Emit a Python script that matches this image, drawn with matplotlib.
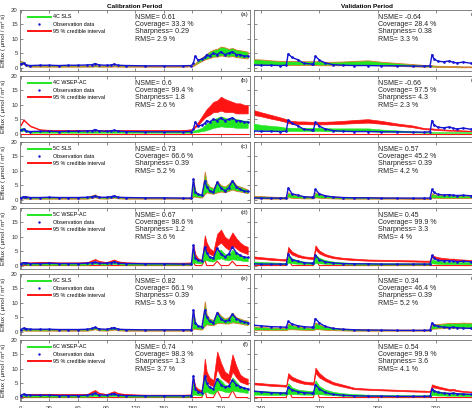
import matplotlib
matplotlib.use('Agg')
import matplotlib.pyplot as plt
from matplotlib.lines import Line2D

plt.rcParams['font.family'] = ['Liberation Sans', 'DejaVu Sans']

# ---------------- data ----------------
cal_t = [0, 3, 6, 10, 20, 30, 40, 50, 60, 70,
         75, 78, 82, 90, 95, 98, 102, 110, 130, 150,
         170, 179, 181, 183, 186, 190, 193, 195, 198, 202,
         206, 210, 214, 218, 222, 226, 230, 234, 238]
val_t = [236, 240, 245, 250, 253, 254, 256, 259, 262, 266,
         267, 268, 270, 273, 277, 282, 288, 295, 302, 310,
         318, 324, 327, 328, 329, 331, 334, 337, 339, 341,
         344, 348, 352]

cal_ticks = [0, 30, 60, 90, 120, 150, 180, 210]
val_ticks = [240, 270, 300, 330]
y_ticks = [0, 5, 10, 15, 20]

model_names = ['4C SLS', '4C WSEP-AC', '5C SLS', '5C WSEP-AC', '6C SLS', '6C WSEP-AC']
cal_tags = ['(a)', '(b)', '(c)', '(d)', '(e)', '(f)']
val_tags = ['(g)', '(h)', '(i)', '(j)', '(k)', '(l)']
cal_nsme = ['0.61', '0.6', '0.73', '0.67', '0.82', '0.74']
cal_cov = ['33.3', '99.4', '66.6', '98.6', '66.1', '98.3']
cal_sharp = ['0.29', '1.8', '0.39', '1.2', '0.39', '1.3']
cal_rms = ['2.9', '2.6', '5.2', '3.6', '5.3', '3.7']
val_nsme = ['-0.64', '-0.66', '0.57', '0.45', '0.34', '0.54']
val_cov = ['28.4', '97.5', '45.2', '99.9', '46.4', '99.9']
val_sharp = ['0.38', '4.3', '0.39', '3.3', '0.39', '3.6']
val_rms = ['3.3', '2.3', '4.2', '4', '5.2', '4.1']

# observations
obs_4c_cal = [1.2, 1.5, 0.8, 0.7, 0.8, 0.8, 0.7, 0.8, 0.8, 0.9,
              1.0, 1.4, 0.9, 0.8, 0.9, 1.2, 0.8, 0.7, 0.6, 0.6,
              0.6, 0.7, 1.5, 4.0, 2.5, 3.0, 3.5, 4.5, 4.0, 5.0,
              4.5, 5.5, 4.5, 5.0, 5.5, 4.5, 4.5, 4.0, 4.0]
obs_5c_cal = [0.6, 1.0, 0.9, 0.7, 0.7, 0.8, 0.7, 0.7, 0.7, 0.8,
              1.0, 1.2, 0.8, 0.8, 1.0, 1.3, 0.8, 0.7, 0.6, 0.6,
              0.5, 0.5, 7.0, 2.5, 1.8, 1.5, 6.5, 4.5, 3.0, 2.5,
              6.0, 4.0, 3.0, 4.0, 6.5, 4.5, 3.5, 3.0, 2.8]
obs_6c_cal = [0.7, 1.2, 1.0, 0.8, 0.8, 0.8, 0.7, 0.7, 0.7, 0.8,
              1.1, 1.5, 0.9, 0.8, 1.1, 1.4, 0.8, 0.7, 0.6, 0.6,
              0.6, 0.6, 7.5, 3.0, 2.0, 1.6, 7.5, 5.0, 3.5, 3.0,
              6.5, 4.5, 3.5, 4.0, 6.0, 4.5, 3.8, 3.3, 3.0]
obs_4c_val = [0.9, 0.8, 0.8, 0.7, 0.8, 4.8, 3.5, 2.7, 1.5, 1.2,
              1.3, 4.0, 2.6, 1.6, 1.0, 0.8, 0.7, 0.7, 0.6, 0.6,
              0.5, 0.5, 0.6, 4.5, 3.0, 2.2, 2.0, 2.3, 1.8, 1.6,
              1.9, 1.5, 1.4]
obs_5c_val = [0.6, 0.5, 0.5, 0.5, 0.5, 4.0, 2.0, 1.5, 1.0, 0.8,
              0.8, 3.5, 2.0, 1.3, 0.9, 0.7, 0.6, 0.6, 0.5, 0.5,
              0.5, 0.5, 0.5, 3.5, 2.5, 1.8, 1.6, 1.7, 1.5, 1.4,
              1.5, 1.3, 1.2]
obs_6c_val = [2.2, 2.0, 1.7, 1.6, 1.5, 3.5, 2.6, 2.0, 1.7, 1.5,
              1.5, 4.5, 3.0, 1.8, 1.1, 0.8, 0.6, 0.5, 0.5, 0.4,
              0.4, 0.4, 0.5, 3.0, 2.3, 1.8, 1.5, 1.4, 1.5, 1.3,
              1.2, 1.1, 1.0]

# calibration model bands
green_a_lo = [1.3, 1.2, 0.5, 0.3, 0.3, 0.3, 0.3, 0.3, 0.3, 0.3,
              0.3, 0.4, 0.3, 0.3, 0.3, 0.4, 0.3, 0.3, 0.3, 0.3,
              0.3, 0.4, 0.6, 1.0, 1.6, 2.3, 2.8, 3.0, 3.3, 3.8,
              3.8, 4.2, 4.0, 3.8, 4.0, 3.6, 3.5, 3.3, 3.2]
green_a_hi = [2.3, 2.0, 1.0, 0.7, 0.7, 0.7, 0.7, 0.7, 0.7, 0.7,
              0.7, 0.9, 0.7, 0.7, 0.7, 0.8, 0.7, 0.7, 0.6, 0.6,
              0.6, 0.8, 1.0, 1.5, 2.5, 3.5, 4.2, 4.8, 5.5, 6.2,
              6.5, 7.3, 7.0, 6.5, 6.8, 6.2, 6.0, 5.8, 5.5]
green_b_lo = [0.8, 1.0, 0.6, 0.3, 0.3, 0.3, 0.3, 0.3, 0.3, 0.3,
              0.3, 0.3, 0.3, 0.3, 0.3, 0.3, 0.3, 0.3, 0.3, 0.3,
              0.3, 0.3, 0.4, 0.5, 0.6, 0.8, 1.0, 1.2, 1.5, 2.0,
              2.2, 2.5, 2.3, 2.2, 2.2, 2.0, 2.0, 2.0, 2.0]
green_b_hi = [1.8, 2.0, 1.2, 0.8, 0.7, 0.7, 0.7, 0.7, 0.7, 0.7,
              0.7, 0.8, 0.7, 0.7, 0.7, 0.8, 0.7, 0.7, 0.7, 0.7,
              0.7, 0.8, 1.0, 1.2, 1.5, 2.0, 2.8, 3.5, 4.0, 5.0,
              5.5, 6.0, 5.5, 5.0, 5.5, 5.0, 4.8, 4.5, 4.5]
red_b_lo = [2.8, 4.6, 3.7, 2.5, 1.3, 1.1, 1.0, 1.0, 1.0, 1.0,
            1.0, 1.0, 1.0, 1.0, 1.0, 1.0, 1.0, 1.0, 1.0, 1.0,
            1.0, 1.3, 1.6, 2.2, 3.0, 4.5, 5.5, 6.0, 6.5, 7.5,
            7.5, 8.0, 7.5, 7.5, 7.5, 7.0, 7.0, 7.0, 7.0]
red_b_hi = [3.2, 5.0, 4.0, 2.8, 1.5, 1.3, 1.2, 1.2, 1.2, 1.2,
            1.2, 1.2, 1.2, 1.2, 1.2, 1.2, 1.2, 1.2, 1.2, 1.2,
            1.2, 1.5, 2.0, 2.8, 4.0, 6.0, 7.5, 8.5, 9.5, 11.0,
            11.5, 12.8, 12.0, 11.5, 11.0, 10.5, 10.5, 10.0, 9.8]
red_b_low = [0, 0, 0, 0, 0, 0, 0, 0, 0, 0,
             0, 0, 0, 0, 0, 0, 0, 0, 0, 0,
             0, 0, 0, 0, 0, 0, 0, 0, 0, 0,
             0, 0, 0, 0, 0, 0, 0, 0, 0]
green_c_lo = [0.3, 0.4, 0.3, 0.3, 0.3, 0.3, 0.3, 0.3, 0.3, 0.3,
              0.6, 0.8, 0.4, 0.3, 0.5, 0.7, 0.4, 0.3, 0.3, 0.3,
              0.3, 0.3, 1.0, 1.0, 0.8, 0.7, 2.0, 2.5, 2.2, 2.0,
              2.5, 2.8, 2.5, 3.0, 3.5, 3.0, 2.8, 2.5, 2.2]
green_c_hi = [0.8, 1.2, 0.9, 0.8, 0.8, 0.8, 0.7, 0.7, 0.7, 0.8,
              1.5, 1.8, 1.0, 0.8, 1.2, 1.5, 0.9, 0.7, 0.7, 0.7,
              0.7, 0.7, 7.3, 3.0, 2.0, 1.5, 9.7, 6.0, 4.5, 4.0,
              6.5, 5.0, 4.5, 5.5, 6.8, 5.0, 4.5, 4.0, 3.5]
green_d_lo = [0.3, 0.4, 0.3, 0.3, 0.3, 0.3, 0.3, 0.3, 0.3, 0.3,
              0.5, 0.6, 0.4, 0.3, 0.5, 0.6, 0.4, 0.3, 0.3, 0.3,
              0.3, 0.3, 1.0, 1.0, 0.8, 0.7, 2.0, 1.8, 1.5, 1.4,
              2.2, 2.5, 2.0, 1.8, 2.2, 2.0, 1.8, 1.6, 1.5]
green_d_hi = [0.7, 0.9, 0.8, 0.7, 0.7, 0.7, 0.7, 0.7, 0.7, 0.7,
              1.0, 1.3, 0.8, 0.7, 0.9, 1.1, 0.8, 0.7, 0.7, 0.7,
              0.7, 0.7, 5.0, 2.5, 1.5, 1.2, 6.0, 4.0, 3.0, 2.8,
              5.5, 5.5, 4.0, 3.8, 5.5, 4.5, 3.5, 3.0, 2.8]
red_d_lo = [0.9, 1.0, 0.9, 0.9, 1.0, 1.0, 0.9, 0.9, 0.9, 1.0,
            1.5, 1.9, 1.3, 1.0, 1.4, 1.7, 1.2, 1.0, 0.9, 0.9,
            0.9, 0.9, 5.0, 3.0, 2.0, 1.6, 6.0, 5.0, 4.0, 3.5,
            7.0, 8.0, 6.5, 5.5, 7.0, 6.0, 5.0, 4.5, 4.0]
red_d_hi = [1.1, 1.3, 1.2, 1.1, 1.3, 1.2, 1.1, 1.1, 1.1, 1.2,
            1.9, 2.3, 1.6, 1.2, 1.8, 2.1, 1.5, 1.1, 1.0, 1.0,
            1.0, 1.1, 7.3, 4.0, 2.5, 2.0, 10.5, 8.0, 6.0, 5.0,
            11.0, 12.5, 10.0, 9.0, 11.5, 9.5, 8.0, 7.0, 6.5]
red_d_low = [0, 0, 0, 0, 0, 0, 0, 0, 0, 0,
             0, 0, 0, 0, 0, 0, 0, 0, 0, 0,
             0, 0, 1.5, 0, 0, 0, 2.0, 0, 0, 0,
             1.5, 0, 0, 0, 1.5, 0, 0, 0, 0]
green_e_lo = [0.3, 0.4, 0.3, 0.3, 0.3, 0.3, 0.3, 0.3, 0.3, 0.3,
              0.6, 0.8, 0.4, 0.3, 0.5, 0.7, 0.4, 0.3, 0.3, 0.3,
              0.3, 0.3, 1.0, 1.0, 0.8, 0.7, 2.0, 2.5, 2.3, 2.2,
              3.0, 3.0, 2.8, 2.8, 3.2, 3.0, 2.8, 2.5, 2.3]
green_e_hi = [0.8, 1.3, 1.0, 0.8, 0.8, 0.8, 0.7, 0.7, 0.7, 0.8,
              1.3, 1.6, 1.0, 0.8, 1.2, 1.5, 0.9, 0.7, 0.7, 0.7,
              0.7, 0.7, 7.5, 3.0, 2.0, 1.6, 10.5, 6.0, 4.5, 4.0,
              7.0, 5.5, 4.5, 5.0, 6.5, 5.0, 4.5, 4.0, 3.8]
green_f_lo = [0.3, 0.4, 0.3, 0.3, 0.3, 0.3, 0.3, 0.3, 0.3, 0.3,
              0.5, 0.6, 0.4, 0.3, 0.5, 0.6, 0.4, 0.3, 0.3, 0.3,
              0.3, 0.3, 1.0, 1.0, 0.8, 0.7, 2.0, 2.0, 1.5, 1.3,
              2.5, 2.5, 2.0, 1.8, 2.5, 2.2, 2.0, 1.8, 1.6]
green_f_hi = [0.8, 1.0, 0.8, 0.7, 0.7, 0.7, 0.7, 0.7, 0.7, 0.7,
              1.1, 1.4, 0.8, 0.7, 1.0, 1.2, 0.8, 0.7, 0.7, 0.7,
              0.7, 0.7, 5.0, 2.5, 1.8, 1.5, 8.0, 5.0, 3.5, 3.0,
              7.0, 6.0, 4.5, 4.0, 7.0, 5.5, 4.0, 3.5, 3.0]
red_f_lo = [0.9, 1.0, 1.0, 1.1, 1.1, 1.1, 1.0, 1.0, 1.0, 1.0,
            1.7, 2.1, 1.4, 1.0, 1.5, 1.8, 1.3, 1.0, 0.9, 0.9,
            0.9, 0.9, 5.0, 3.0, 2.2, 1.8, 8.0, 6.0, 4.5, 4.0,
            10.0, 7.0, 6.0, 5.0, 9.0, 7.0, 5.5, 5.0, 4.5]
red_f_hi = [1.1, 1.3, 1.2, 1.3, 1.3, 1.3, 1.2, 1.2, 1.2, 1.3,
            2.2, 2.6, 1.7, 1.2, 1.9, 2.2, 1.6, 1.2, 1.0, 1.0,
            1.0, 1.1, 7.0, 4.0, 3.0, 2.5, 13.5, 9.0, 7.0, 6.0,
            16.0, 12.0, 9.0, 8.0, 15.0, 11.0, 8.0, 7.0, 6.5]
red_f_low = [0, 0, 0, 0, 0, 0, 0, 0, 0, 0,
             0, 0, 0, 0, 0, 0, 0, 0, 0, 0,
             0, 0, 0, 0, 0, 0, 3.0, 0, 0, 0,
             2.5, 0, 0, 0, 2.5, 0, 0, 0, 0]

# validation model bands
green_g_lo = [1.0, 1.0, 0.9, 0.9, 0.9, 0.9, 0.9, 0.9, 0.9, 0.9,
              0.9, 0.9, 0.8, 0.8, 0.8, 0.8, 0.9, 0.9, 0.8, 0.6,
              0.4, 0.3, 0.3, 0.3, 0.3, 0.2, 0.2, 0.2, 0.2, 0.1,
              0.1, 0.1, 0.1]
green_g_hi = [2.9, 2.8, 2.5, 2.3, 2.2, 2.3, 2.3, 2.2, 2.2, 2.2,
              2.2, 2.2, 2.2, 2.0, 2.0, 2.1, 2.3, 2.5, 2.0, 1.6,
              1.2, 0.9, 0.8, 0.8, 0.7, 0.6, 0.6, 0.5, 0.5, 0.5,
              0.4, 0.4, 0.4]
green_h_lo = [1.3, 1.2, 1.1, 1.0, 0.9, 0.9, 0.9, 0.9, 0.9, 0.9,
              0.9, 0.9, 0.9, 0.8, 0.8, 0.8, 0.8, 0.8, 0.6, 0.5,
              0.4, 0.3, 0.2, 0.2, 0.2, 0.2, 0.2, 0.2, 0.2, 0.2,
              0.2, 0.2, 0.2]
green_h_hi = [3.5, 3.0, 2.7, 2.4, 2.0, 2.0, 2.0, 2.0, 2.0, 2.0,
              2.0, 2.0, 2.0, 1.9, 1.8, 1.8, 1.8, 1.8, 1.4, 1.1,
              0.8, 0.6, 0.5, 0.5, 0.5, 0.5, 0.5, 0.5, 0.5, 0.5,
              0.5, 0.5, 0.5]
red_h_lo = [6.5, 6.0, 5.2, 4.5, 4.0, 3.6, 3.4, 3.3, 3.3, 3.2,
            3.2, 3.2, 3.2, 3.2, 3.3, 3.4, 3.6, 3.8, 3.4, 2.8,
            2.2, 1.5, 1.4, 1.4, 1.3, 1.2, 1.1, 1.0, 1.0, 0.9,
            0.8, 0.7, 0.7]
red_h_hi = [8.2, 7.4, 6.5, 5.6, 5.0, 4.6, 4.4, 4.2, 4.2, 4.1,
            4.1, 4.1, 4.1, 4.1, 4.2, 4.4, 4.7, 5.0, 4.4, 3.5,
            2.8, 1.9, 1.8, 1.8, 1.7, 1.6, 1.4, 1.3, 1.3, 1.2,
            1.1, 1.0, 0.9]
red_h_low = [0, 0, 0, 0, 0, 0, 0, 0, 0, 0,
             0, 0, 0, 0, 0, 0, 0, 0, 0, 0,
             0, 0, 0, 0, 0, 0, 0, 0, 0, 0,
             0, 0, 0]
green_i_lo = [0.4, 0.4, 0.3, 0.3, 0.3, 0.8, 0.6, 0.5, 0.4, 0.4,
              0.4, 0.8, 0.6, 0.5, 0.4, 0.3, 0.3, 0.3, 0.3, 0.3,
              0.2, 0.2, 0.2, 0.7, 0.6, 0.6, 0.5, 0.5, 0.5, 0.5,
              0.5, 0.5, 0.4]
green_i_hi = [1.3, 1.2, 1.0, 0.9, 0.9, 2.5, 1.8, 1.4, 1.2, 1.0,
              1.0, 2.5, 1.8, 1.4, 1.1, 0.9, 0.9, 0.9, 0.8, 0.7,
              0.6, 0.6, 0.6, 2.2, 1.8, 1.6, 1.5, 1.5, 1.4, 1.4,
              1.4, 1.3, 1.2]
green_j_lo = [0.6, 0.5, 0.5, 0.4, 0.4, 1.0, 0.8, 0.6, 0.5, 0.4,
              0.4, 1.0, 0.8, 0.6, 0.5, 0.4, 0.3, 0.3, 0.3, 0.3,
              0.3, 0.3, 0.3, 0.8, 0.7, 0.6, 0.5, 0.5, 0.5, 0.5,
              0.5, 0.4, 0.4]
green_j_hi = [1.4, 1.3, 1.1, 1.0, 0.9, 3.5, 2.5, 1.8, 1.4, 1.2,
              1.2, 3.8, 2.7, 1.9, 1.4, 1.1, 0.9, 0.8, 0.8, 0.8,
              0.8, 0.8, 0.8, 2.2, 1.9, 1.6, 1.4, 1.3, 1.3, 1.2,
              1.2, 1.1, 1.0]
red_j_lo = [2.5, 2.3, 2.0, 1.8, 1.7, 5.0, 3.8, 3.0, 2.6, 2.3,
            2.3, 5.5, 4.2, 3.3, 2.6, 2.2, 1.9, 1.7, 1.6, 1.5,
            1.4, 1.3, 1.3, 3.0, 2.6, 2.3, 2.0, 1.9, 1.9, 1.8,
            1.7, 1.5, 1.4]
red_j_hi = [3.2, 2.9, 2.6, 2.3, 2.2, 6.5, 4.8, 3.8, 3.2, 2.9,
            2.9, 7.0, 5.2, 4.0, 3.2, 2.7, 2.4, 2.1, 2.0, 1.9,
            1.8, 1.7, 1.7, 3.8, 3.3, 2.9, 2.6, 2.4, 2.4, 2.2,
            2.1, 1.9, 1.8]
red_j_low = [0, 0, 0, 0, 0, 2.0, 0, 0, 0, 0,
             0, 2.0, 0, 0, 0, 0, 0, 0, 0, 0,
             0, 0, 0, 0, 0, 0, 0, 0, 0, 0,
             0, 0, 0]
green_k_lo = [0.6, 0.6, 0.5, 0.5, 0.5, 0.8, 0.8, 0.7, 0.6, 0.5,
              0.5, 0.9, 0.8, 0.6, 0.5, 0.4, 0.3, 0.3, 0.3, 0.3,
              0.3, 0.3, 0.3, 1.0, 1.0, 1.1, 1.2, 1.3, 1.3, 1.3,
              1.4, 1.3, 1.3]
green_k_hi = [1.8, 1.6, 1.4, 1.3, 1.3, 2.8, 2.2, 1.8, 1.5, 1.3,
              1.3, 3.2, 2.4, 1.7, 1.3, 1.0, 0.9, 0.8, 0.7, 0.7,
              0.7, 0.7, 0.7, 2.5, 2.5, 2.6, 2.8, 3.0, 3.0, 3.0,
              3.1, 3.0, 2.9]
green_l_lo = [1.0, 1.0, 0.9, 0.9, 0.9, 1.2, 1.2, 1.1, 1.0, 1.0,
              1.0, 1.3, 1.2, 1.0, 0.8, 0.6, 0.5, 0.5, 0.4, 0.4,
              0.4, 0.4, 0.4, 0.8, 0.8, 0.7, 0.7, 0.6, 0.6, 0.6,
              0.5, 0.5, 0.5]
green_l_hi = [2.5, 2.3, 2.1, 2.0, 2.0, 5.0, 3.5, 2.8, 2.5, 2.3,
              2.3, 6.0, 4.0, 2.8, 2.0, 1.5, 1.2, 1.0, 0.9, 0.9,
              0.8, 0.8, 0.8, 3.0, 2.6, 2.2, 1.9, 1.7, 1.8, 1.6,
              1.5, 1.3, 1.2]
red_l_lo = [4.6, 4.4, 4.1, 3.9, 3.8, 7.0, 6.0, 5.3, 4.8, 4.5,
            4.5, 8.5, 7.0, 5.8, 4.6, 3.8, 2.9, 2.7, 2.5, 2.3,
            2.1, 2.0, 2.0, 3.8, 3.5, 3.2, 2.8, 2.4, 2.5, 2.2,
            2.0, 1.8, 1.6]
red_l_hi = [5.2, 5.0, 4.7, 4.5, 4.4, 8.5, 7.2, 6.3, 5.6, 5.3,
            5.3, 10.4, 8.5, 6.8, 5.4, 4.5, 3.4, 3.1, 2.9, 2.7,
            2.5, 2.4, 2.3, 4.6, 4.3, 3.9, 3.4, 2.9, 3.0, 2.6,
            2.3, 2.1, 1.9]
red_l_low = [0, 0, 0, 0, 0, 3.0, 0, 0, 0, 0,
             0, 4.0, 0, 0, 0, 0, 0, 0, 0, 0,
             0, 0, 0, 0, 0, 0, 0, 0, 0, 0,
             0, 0, 0]

# ------------- assemble per-row tables -------------
cal_rows = [
    (obs_4c_cal, green_a_lo, green_a_hi, None, None, None),
    (obs_4c_cal, green_b_lo, green_b_hi, red_b_lo, red_b_hi, red_b_low),
    (obs_5c_cal, green_c_lo, green_c_hi, None, None, None),
    (obs_5c_cal, green_d_lo, green_d_hi, red_d_lo, red_d_hi, red_d_low),
    (obs_6c_cal, green_e_lo, green_e_hi, None, None, None),
    (obs_6c_cal, green_f_lo, green_f_hi, red_f_lo, red_f_hi, red_f_low),
]
val_rows = [
    (obs_4c_val, green_g_lo, green_g_hi, None, None, None),
    (obs_4c_val, green_h_lo, green_h_hi, red_h_lo, red_h_hi, red_h_low),
    (obs_5c_val, green_i_lo, green_i_hi, None, None, None),
    (obs_5c_val, green_j_lo, green_j_hi, red_j_lo, red_j_hi, red_j_low),
    (obs_6c_val, green_k_lo, green_k_hi, None, None, None),
    (obs_6c_val, green_l_lo, green_l_hi, red_l_lo, red_l_hi, red_l_low),
]

GREEN = '#22e622'
RED = '#ff1414'
BLUE = '#1414d2'
EDGE = '#d8782a'
FRAME = '#707070'

W, H = 472, 408
fig = plt.figure(figsize=(W / 100, H / 100), dpi=100)


def rect(x0, x1, top, bot):
    return [x0 / W, 1 - bot / H, (x1 - x0) / W, (bot - top) / H]


def draw(ax, t, row):
    obs, glo, ghi, rlo, rhi, rlow = row
    if rlo is not None:
        ax.fill_between(t, rlo, rhi, facecolor=RED, edgecolor=RED, lw=0.5, zorder=2)
        ax.plot(t, rlow, color=RED, lw=0.8, zorder=2)
        ax.fill_between(t, glo, ghi, facecolor=GREEN, edgecolor=GREEN, lw=0.4, zorder=3)
    else:
        ax.fill_between(t, glo, ghi, facecolor=GREEN, edgecolor=EDGE, lw=0.6, zorder=3)
    ax.plot(t, obs, color=BLUE, lw=1.0, marker='.', ms=1.8, zorder=4)


def style(ax, xticks, xlim, show_xlab, show_ylab):
    ax.set_xlim(*xlim)
    ax.set_ylim(-1.2, 20)
    ax.set_xticks(xticks)
    ax.set_yticks(y_ticks)
    ax.tick_params(direction='in', length=2, width=0.4, labelsize=4.3,
                   top=True, right=True, colors='#333333', pad=1.5)
    ax.tick_params(axis='x', pad=3.5)
    if not show_xlab:
        ax.set_xticklabels([])
    if not show_ylab:
        ax.set_yticklabels([])
    for s in ax.spines.values():
        s.set_color(FRAME)
        s.set_linewidth(0.6)


for i in range(6):
    top = 10 + 66 * i
    bot = top + 61
    axL = fig.add_axes(rect(20, 250, top, bot))
    axR = fig.add_axes(rect(254, 480, top, bot))
    draw(axL, cal_t, cal_rows[i])
    draw(axR, val_t, val_rows[i])
    style(axL, cal_ticks, (-0.7, 240.4), i == 5, True)
    style(axR, val_ticks, (236.4, 352.7), i == 5, False)
    axL.set_ylabel('Efflux ( μmol / m² s)', fontsize=4.4, color='#222222')
    axL.yaxis.set_label_coords(-0.06, 0.5)

    handles = [Line2D([], [], color=GREEN, lw=1.4),
               Line2D([], [], color=BLUE, lw=0, marker='.', ms=1.5),
               Line2D([], [], color=RED, lw=1.4)]
    axL.legend(handles, [model_names[i], 'Observation data', '95 % credible interval'],
               loc='upper left', bbox_to_anchor=(0.02, 0.98), frameon=False,
               fontsize=3.9, handlelength=4.2, handletextpad=0.5,
               labelspacing=0.45, borderaxespad=0.2)

    axL.text(0.5, 0.935, 'NSME= %s\nCoverage= %s %%\nSharpness= %s\nRMS= %s %%'
             % (cal_nsme[i], cal_cov[i], cal_sharp[i], cal_rms[i]),
             transform=axL.transAxes, ha='left', va='top', fontsize=5,
             linespacing=1.05, color='#222222')
    axR.text(0.547, 0.935, 'NSME= %s\nCoverage= %s %%\nSharpness= %s\nRMS= %s %%'
             % (val_nsme[i], val_cov[i], val_sharp[i], val_rms[i]),
             transform=axR.transAxes, ha='left', va='top', fontsize=5,
             linespacing=1.05, color='#222222')
    axL.text(0.992, 0.97, cal_tags[i], transform=axL.transAxes, ha='right',
             va='top', fontsize=4.5, color='#222222')
    axR.text(0.992, 0.97, val_tags[i], transform=axR.transAxes, ha='right',
             va='top', fontsize=4.5, color='#222222')
    if i == 0:
        axL.set_title('Calibration Period', fontsize=4.6, fontweight='bold', pad=1.5)
        axR.set_title('Validation Period', fontsize=4.6, fontweight='bold', pad=1.5)

fig.savefig('out.png', dpi=100)
